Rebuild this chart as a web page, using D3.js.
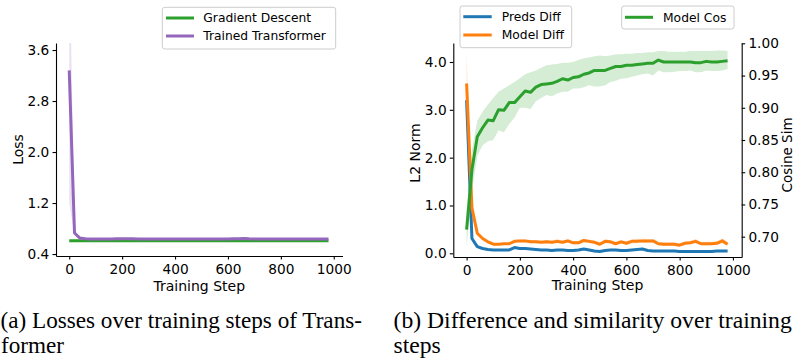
<!DOCTYPE html>
<html>
<head>
<meta charset="utf-8">
<script src="https://cdn.jsdelivr.net/npm/d3@7"></script>
<style>
  html, body { margin: 0; padding: 0; background: #fff; }
  svg { display: block; }
</style>
</head>
<body>
<svg id="chart" width="793" height="363"></svg>
<script>
// ---- data ----
const steps = [0,20,40,60,80,100,120,140,160,180,200,220,240,260,280,300,320,340,360,380,
  400,420,440,460,480,500,520,540,560,580,600,620,640,660,680,700,720,740,760,780,
  800,820,840,860,880,900,920,940,960,980];

const gdLoss = [0.61,0.61,0.61,0.61,0.61,0.61,0.61,0.61,0.61,0.61,0.61,0.61,0.61,0.61,0.61,0.61,0.61,0.61,0.61,0.61,
  0.61,0.61,0.61,0.61,0.61,0.61,0.61,0.61,0.61,0.61,0.61,0.61,0.61,0.61,0.61,0.61,0.61,0.61,0.61,0.61,
  0.61,0.61,0.61,0.61,0.61,0.61,0.61,0.61,0.61,0.61];
const ttLoss = [3.28,0.73,0.65,0.64,0.635,0.635,0.635,0.635,0.635,0.64,0.64,0.64,0.638,0.637,0.636,0.636,0.636,0.636,0.636,0.636,
  0.636,0.636,0.636,0.636,0.636,0.634,0.634,0.635,0.636,0.636,0.637,0.638,0.64,0.642,0.638,0.636,0.636,0.636,0.635,0.635,
  0.635,0.635,0.635,0.635,0.636,0.636,0.637,0.637,0.637,0.637];
const ttLossLo = [1.2,0.70,0.63,0.625,0.625,0.625,0.625,0.625,0.625,0.628,0.628,0.628,0.627,0.627,0.626,0.626,0.626,0.626,0.626,0.626,
  0.626,0.626,0.626,0.626,0.626,0.624,0.624,0.625,0.626,0.626,0.627,0.628,0.629,0.63,0.628,0.626,0.626,0.626,0.625,0.625,
  0.625,0.625,0.625,0.625,0.626,0.626,0.627,0.627,0.627,0.627];
const ttLossHi = [5.4,0.77,0.67,0.655,0.648,0.648,0.648,0.648,0.648,0.654,0.654,0.653,0.651,0.649,0.647,0.647,0.647,0.647,0.647,0.647,
  0.647,0.647,0.647,0.647,0.647,0.645,0.645,0.646,0.647,0.647,0.648,0.65,0.653,0.656,0.65,0.647,0.647,0.647,0.646,0.646,
  0.646,0.646,0.646,0.646,0.647,0.647,0.648,0.648,0.648,0.648];

const predsDiff = [3.2,0.31,0.14,0.10,0.08,0.07,0.07,0.07,0.07,0.12,0.10,0.10,0.09,0.08,0.07,0.07,0.06,0.07,0.07,0.06,
  0.06,0.07,0.09,0.07,0.05,0.04,0.06,0.07,0.07,0.06,0.06,0.07,0.08,0.09,0.06,0.05,0.05,0.05,0.05,0.05,
  0.04,0.04,0.04,0.04,0.04,0.04,0.04,0.05,0.05,0.05];
const predsDiffLo = [2.9,0.26,0.12,0.08,0.065,0.055,0.055,0.055,0.055,0.10,0.085,0.085,0.075,0.065,0.055,0.055,0.045,0.055,0.055,0.045,
  0.045,0.055,0.075,0.055,0.035,0.03,0.045,0.055,0.055,0.045,0.045,0.055,0.065,0.075,0.045,0.035,0.035,0.035,0.035,0.035,
  0.03,0.03,0.03,0.03,0.03,0.03,0.03,0.035,0.035,0.035];
const predsDiffHi = [3.5,0.36,0.16,0.12,0.095,0.085,0.085,0.085,0.085,0.14,0.115,0.115,0.105,0.095,0.085,0.085,0.075,0.085,0.085,0.075,
  0.075,0.085,0.105,0.085,0.065,0.055,0.075,0.085,0.085,0.075,0.075,0.085,0.095,0.105,0.075,0.065,0.065,0.065,0.065,0.065,
  0.055,0.055,0.055,0.055,0.055,0.055,0.055,0.065,0.065,0.065];

const modelDiff = [3.55,0.95,0.42,0.31,0.24,0.19,0.19,0.20,0.20,0.25,0.26,0.26,0.24,0.24,0.23,0.24,0.23,0.25,0.23,0.26,
  0.22,0.22,0.27,0.25,0.23,0.19,0.25,0.24,0.20,0.24,0.21,0.25,0.25,0.26,0.26,0.26,0.20,0.19,0.19,0.19,
  0.17,0.21,0.22,0.25,0.20,0.20,0.20,0.21,0.26,0.19];
const modelDiffLo = [2.9,0.85,0.38,0.28,0.21,0.17,0.17,0.18,0.18,0.22,0.23,0.23,0.21,0.21,0.20,0.21,0.20,0.21,0.20,0.22,
  0.19,0.19,0.23,0.21,0.20,0.16,0.21,0.21,0.17,0.21,0.18,0.21,0.21,0.22,0.22,0.22,0.17,0.16,0.16,0.16,
  0.14,0.18,0.19,0.21,0.17,0.17,0.17,0.18,0.21,0.16];
const modelDiffHi = [4.2,1.05,0.46,0.34,0.27,0.22,0.21,0.22,0.23,0.28,0.29,0.29,0.28,0.28,0.27,0.28,0.27,0.30,0.27,0.30,
  0.26,0.26,0.31,0.29,0.27,0.23,0.29,0.28,0.24,0.28,0.25,0.29,0.30,0.31,0.30,0.30,0.24,0.23,0.23,0.23,
  0.21,0.25,0.26,0.30,0.24,0.24,0.24,0.25,0.31,0.23];

const modelCos = [0.711,0.804,0.855,0.869,0.881,0.880,0.897,0.896,0.908,0.908,0.917,0.926,0.924,0.932,0.936,0.937,0.938,0.941,0.945,0.943,
  0.947,0.948,0.952,0.954,0.958,0.958,0.958,0.961,0.964,0.964,0.966,0.966,0.967,0.968,0.969,0.969,0.974,0.971,0.971,0.971,
  0.971,0.971,0.971,0.970,0.970,0.972,0.971,0.971,0.972,0.973];
const modelCosLo = [0.685,0.77,0.825,0.842,0.848,0.85,0.865,0.862,0.875,0.885,0.9,0.9,0.898,0.91,0.915,0.92,0.918,0.922,0.925,0.925,
  0.93,0.93,0.932,0.935,0.933,0.933,0.935,0.94,0.942,0.945,0.946,0.948,0.95,0.952,0.953,0.95,0.958,0.955,0.955,0.956,
  0.957,0.957,0.958,0.955,0.955,0.958,0.957,0.957,0.958,0.96];
const modelCosHi = [0.74,0.835,0.88,0.894,0.905,0.915,0.925,0.93,0.935,0.94,0.946,0.952,0.955,0.958,0.962,0.966,0.967,0.968,0.97,0.97,
  0.971,0.974,0.977,0.978,0.98,0.981,0.98,0.981,0.983,0.983,0.984,0.984,0.985,0.985,0.986,0.986,0.988,0.988,0.987,0.987,
  0.987,0.987,0.988,0.988,0.988,0.988,0.988,0.989,0.989,0.988];

const xTicks = [0, 200, 400, 600, 800, 1000];
const lossTicks = [0.4, 1.2, 2.0, 2.8, 3.6];
const normTicks = [0, 1, 2, 3, 4];
const cosTicks = [0.70, 0.75, 0.80, 0.85, 0.90, 0.95, 1.00];

const C = { green: '#2ca02c', purple: '#9467bd', blue: '#1f77b4', orange: '#ff7f0e' };
const FONT = 'DejaVu Sans, sans-serif';

const svg = d3.select('#chart');
const defs = svg.append('defs');

function clip(id, b) {
  defs.append('clipPath').attr('id', id).append('rect')
    .attr('x', b.x0).attr('y', b.y0).attr('width', b.x1 - b.x0).attr('height', b.y1 - b.y0);
}

function styleAxis(g, size) {
  g.selectAll('path.domain').attr('stroke', '#000').attr('stroke-width', 1.1);
  g.selectAll('.tick line').attr('stroke', '#000').attr('stroke-width', 1.1);
  g.selectAll('.tick text').attr('fill', '#000').style('font-family', FONT).style('font-size', size + 'px');
}

function drawSeries(g, x, y, vals, lo, hi, color, clipId) {
  const pts = steps.map((s, i) => ({ s, v: vals[i], lo: lo ? lo[i] : null, hi: hi ? hi[i] : null }));
  const layer = g.append('g').attr('clip-path', `url(#${clipId})`);
  if (lo) {
    layer.append('path')
      .attr('d', d3.area().x(d => x(d.s)).y0(d => y(d.lo)).y1(d => y(d.hi))(pts))
      .attr('fill', color).attr('fill-opacity', 0.2).attr('stroke', 'none');
  }
  layer.append('path')
    .attr('d', d3.line().x(d => x(d.s)).y(d => y(d.v))(pts))
    .attr('fill', 'none').attr('stroke', color).attr('stroke-width', 3)
    .attr('stroke-linejoin', 'round');
}

function legend(items, box, lineX, textX, rowY) {
  const g = svg.append('g');
  g.append('rect').attr('x', box.x).attr('y', box.y).attr('width', box.w).attr('height', box.h)
    .attr('rx', 2.5).attr('fill', '#fff').attr('fill-opacity', 0.8)
    .attr('stroke', '#cccccc').attr('stroke-width', 1);
  items.forEach((it, i) => {
    g.append('line').attr('x1', lineX[0]).attr('x2', lineX[1]).attr('y1', rowY[i]).attr('y2', rowY[i])
      .attr('stroke', it.color).attr('stroke-width', 3);
    g.append('text').attr('x', textX).attr('y', rowY[i]).attr('dy', '0.36em')
      .style('font-family', FONT).style('font-size', '12.3px').attr('fill', '#000').text(it.label);
  });
}

const fmtInt = d3.format('d');

// ---- left panel: loss ----
const L = { x0: 56, x1: 342.5, y0: 43, y1: 256 };
clip('clipL', L);
const xL = d3.scaleLinear().domain([-50, 1033]).range([L.x0, L.x1]);
const yL = d3.scaleLinear().domain([0.369, 3.71]).range([L.y1, L.y0]);

const gL = svg.append('g');
drawSeries(gL, xL, yL, gdLoss, null, null, C.green, 'clipL');
drawSeries(gL, xL, yL, ttLoss, ttLossLo, ttLossHi, C.purple, 'clipL');

gL.append('g').attr('transform', `translate(0,${L.y1})`)
  .call(d3.axisBottom(xL).tickValues(xTicks).tickFormat(fmtInt).tickSize(3.5).tickSizeOuter(0).tickPadding(4.5))
  .call(g => styleAxis(g, 13.7));
gL.append('g').attr('transform', `translate(${L.x0},0)`)
  .call(d3.axisLeft(yL).tickValues(lossTicks).tickFormat(d3.format('.1f')).tickSize(3.5).tickSizeOuter(0).tickPadding(3.2))
  .call(g => styleAxis(g, 13.7));

gL.append('text').attr('x', (L.x0 + L.x1) / 2).attr('y', 291).attr('text-anchor', 'middle')
  .style('font-family', FONT).style('font-size', '14px').text('Training Step');
gL.append('text').attr('transform', `translate(22.7,${(L.y0 + L.y1) / 2}) rotate(-90)`).attr('text-anchor', 'middle')
  .style('font-family', FONT).style('font-size', '14px').text('Loss');

legend([{ label: 'Gradient Descent', color: C.green }, { label: 'Trained Transformer', color: C.purple }],
  { x: 162.3, y: 7.3, w: 173.4, h: 41.7 }, [166, 194], 203.3, [18, 36]);

// ---- right panel: difference and similarity ----
const R = { x0: 453.3, x1: 741.7, y0: 43, y1: 257 };
clip('clipR', R);
const xR = d3.scaleLinear().domain([-50, 1033]).range([R.x0, R.x1]);
const yR = d3.scaleLinear().domain([-0.077, 4.397]).range([R.y1, R.y0]);
const yR2 = d3.scaleLinear().domain([0.6685, 1.0005]).range([R.y1, R.y0]);

const gR = svg.append('g');
drawSeries(gR, xR, yR, predsDiff, predsDiffLo, predsDiffHi, C.blue, 'clipR');
drawSeries(gR, xR, yR, modelDiff, modelDiffLo, modelDiffHi, C.orange, 'clipR');
drawSeries(gR, xR, yR2, modelCos, modelCosLo, modelCosHi, C.green, 'clipR');

gR.append('g').attr('transform', `translate(0,${R.y1})`)
  .call(d3.axisBottom(xR).tickValues(xTicks).tickFormat(fmtInt).tickSize(3.5).tickSizeOuter(0).tickPadding(4.5))
  .call(g => styleAxis(g, 13.7));
gR.append('g').attr('transform', `translate(${R.x0},0)`)
  .call(d3.axisLeft(yR).tickValues(normTicks).tickFormat(d3.format('.1f')).tickSize(3.5).tickSizeOuter(0).tickPadding(3.2))
  .call(g => styleAxis(g, 13.7));
gR.append('g').attr('transform', `translate(${R.x1},0)`)
  .call(d3.axisRight(yR2).tickValues(cosTicks).tickFormat(d3.format('.2f')).tickSize(3.5).tickSizeOuter(0).tickPadding(3.2))
  .call(g => styleAxis(g, 13.7));

gR.append('text').attr('x', (R.x0 + R.x1) / 2).attr('y', 290).attr('text-anchor', 'middle')
  .style('font-family', FONT).style('font-size', '14px').text('Training Step');
gR.append('text').attr('transform', `translate(420,${(R.y0 + R.y1) / 2 + 3}) rotate(-90)`).attr('text-anchor', 'middle')
  .style('font-family', FONT).style('font-size', '14px').text('L2 Norm');
gR.append('text').attr('transform', `translate(791.5,${(R.y0 + R.y1) / 2 + 5}) rotate(-90)`).attr('text-anchor', 'middle')
  .style('font-family', FONT).style('font-size', '13.5px').text('Cosine Sim');

legend([{ label: 'Preds Diff', color: C.blue }, { label: 'Model Diff', color: C.orange }],
  { x: 460, y: 6, w: 111.7, h: 41.7 }, [463.3, 491.7], 501.7, [16.7, 35]);
legend([{ label: 'Model Cos', color: C.green }],
  { x: 621.7, y: 6, w: 112.3, h: 23 }, [625, 653], 663, [17.3]);

// ---- captions ----
// each caption line is squeezed horizontally like the reference's condensed serif
const captions = [
  { x: 0.5, y: 327.5, t: '(a) Losses over training steps of Trans-', w: 361.5, ref: 0 },
  { x: 1, y: 353, t: 'former', ref: 0 },
  { x: 393.5, y: 327.5, t: '(b) Difference and similarity over training', w: 398.5, ref: 2 },
  { x: 393.5, y: 353, t: 'steps', ref: 2 }
];
const capG = svg.append('g');
const capTexts = capG.selectAll('text').data(captions).join('text')
  .style('font-family', 'Liberation Serif, Times New Roman, serif').style('font-size', '22.5px')
  .attr('fill', '#000').text(d => d.t);
const nodes = capTexts.nodes();
const scaleOf = captions.map((d, i) => d.w ? d.w / nodes[i].getComputedTextLength() : null);
capTexts.attr('transform', d => `translate(${d.x},${d.y}) scale(${scaleOf[d.ref]},1)`);
</script>
</body>
</html>
